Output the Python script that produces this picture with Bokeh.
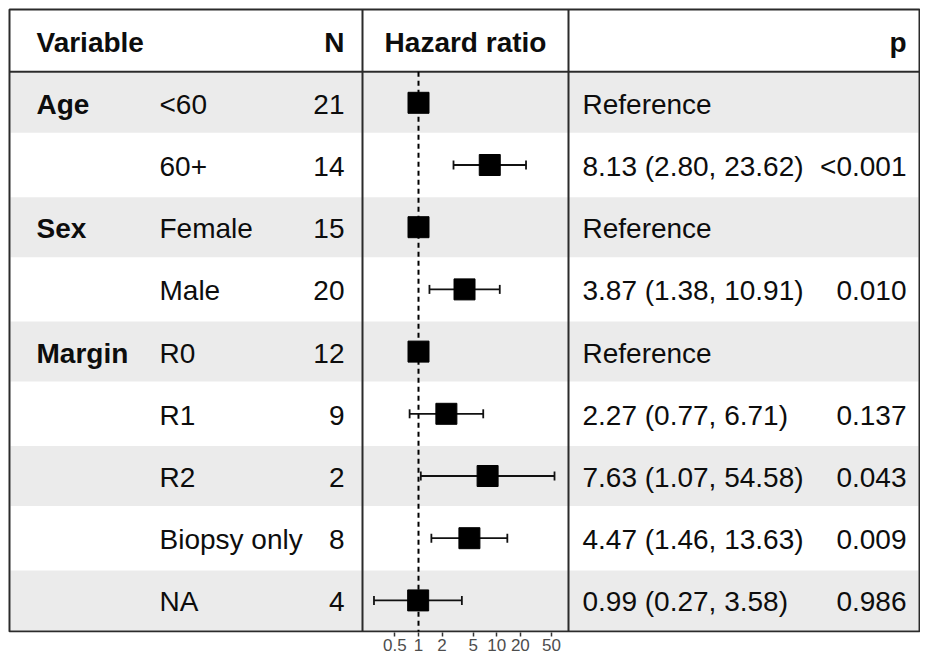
import math
from bokeh.plotting import figure
from bokeh.models import Range1d, LogScale, LogAxis, FixedTicker, CustomJSTickFormatter
from bokeh.core.properties import value
from bokeh.embed import file_html
from bokeh.resources import INLINE

# ---- data ----
variables = ["Age", "", "Sex", "", "Margin", "", "", "", ""]
levels = ["<60", "60+", "Female", "Male", "R0", "R1", "R2", "Biopsy only", "NA"]
n_obs = [21, 14, 15, 20, 12, 9, 2, 8, 4]
hr_est = [1, 8.13, 1, 3.87, 1, 2.27, 7.63, 4.47, 0.99]
hr_low = [None, 2.80, None, 1.38, None, 0.77, 1.07, 1.46, 0.27]
hr_high = [None, 23.62, None, 10.91, None, 6.71, 54.58, 13.63, 3.58]
p_values = ["", "<0.001", "", "0.010", "", "0.137", "0.043", "0.009", "0.986"]
hr_ticks = [0.5, 1, 2, 5, 10, 20, 50]
headers = ["Variable", "N", "Hazard ratio", "p"]

rows = list(range(1, len(levels) + 1))
est_labels = ["Reference" if lo is None else f"{e:.2f} ({lo:.2f}, {hi:.2f})"
              for e, lo, hi in zip(hr_est, hr_low, hr_high)]

# ---- layout (x in pixel-like units) ----
W, H = 920, 656
AX_H = 24
FRAME_H = H - AX_H
TOP_PX, BOT_PX = 9.0, FRAME_H - 1.0
ROW_PX = (BOT_PX - TOP_PX) / 10.0
y_bottom = (FRAME_H - TOP_PX) / ROW_PX - 0.5
y_top = -TOP_PX / ROW_PX - 0.5

X0, X1 = 0, W
ONE_PX, DECADE_PX = 418.0, 78.3
hr_lo_lim = 10 ** ((X0 - ONE_PX) / DECADE_PX)
hr_hi_lim = 10 ** ((X1 - ONE_PX) / DECADE_PX)
left_b, right_b = 9, 919
panel_l, panel_r = 362, 568

FONT = value("Liberation Sans")
FS = "28px"
TXT = "#0d0d0d"
LINE = "#2b2b2b"

p = figure(width=W, height=H, output_backend="svg", toolbar_location=None,
           x_range=Range1d(X0, X1), y_range=Range1d(y_bottom, y_top),
           x_axis_type=None, y_axis_type=None,
           extra_x_ranges={"hr": Range1d(hr_lo_lim, hr_hi_lim)},
           extra_x_scales={"hr": LogScale()},
           min_border_left=0, min_border_right=0, min_border_top=0, min_border_bottom=AX_H)
p.outline_line_color = None
p.xgrid.visible = False
p.ygrid.visible = False
p.background_fill_color = "white"
p.border_fill_color = "white"

# stripes
stripe_rows = [r for r in rows if r % 2 == 1]
p.hbar(y=stripe_rows, height=0.965, left=left_b + 1, right=right_b - 1,
       fill_color="#EBEBEB", line_color=None)

# table lines
p.segment(x0=[left_b], x1=[right_b], y0=[0.5], y1=[0.5], line_color=LINE, line_width=2)
p.segment(x0=[panel_l, panel_r], x1=[panel_l, panel_r], y0=[-0.5, -0.5], y1=[9.5, 9.5],
          line_color=LINE, line_width=2)
p.quad(left=[left_b], right=[right_b], top=[-0.5], bottom=[9.5], fill_color=None,
       line_color=LINE, line_width=2)

# reference line
p.segment(x0=[1], x1=[1], y0=[0.5], y1=[9.5], x_range_name="hr",
          line_color="black", line_width=2, line_dash="5 4")

# CIs
ci_rows = [r for r, lo in zip(rows, hr_low) if lo is not None]
ci_lo = [lo for lo in hr_low if lo is not None]
ci_hi = [hi for hi in hr_high if hi is not None]
p.segment(x0=ci_lo, x1=ci_hi, y0=ci_rows, y1=ci_rows, x_range_name="hr",
          line_color="#111111", line_width=1.8)
p.scatter(x=ci_lo + ci_hi, y=ci_rows + ci_rows, marker="dash", angle=math.pi / 2, size=9,
          line_color="#111111", line_width=1.8, x_range_name="hr")
p.scatter(x=hr_est, y=rows, marker="square", size=21, fill_color="black",
          line_color="black", x_range_name="hr")

# text
BL = 1.5 / ROW_PX
def txt(x, y, t, align, bold=False):
    p.text(x=x, y=[yy + BL for yy in y], text=t, text_font=FONT, text_font_size=FS,
           text_align=align, text_baseline="alphabetic", text_color=TXT,
           text_font_style="bold" if bold else "normal")

txt([36], [0], [headers[0]], "left", True)
txt([344], [0], [headers[1]], "right", True)
txt([465], [0], [headers[2]], "center", True)
txt([906], [0], [headers[3]], "right", True)
txt([36] * len(rows), rows, variables, "left", True)
txt([159] * len(rows), rows, levels, "left")
txt([344] * len(rows), rows, [str(v) for v in n_obs], "right")
txt([582] * len(rows), rows, est_labels, "left")
txt([906] * len(rows), rows, p_values, "right")

# axis
ax = LogAxis(x_range_name="hr", ticker=FixedTicker(ticks=hr_ticks),
             formatter=CustomJSTickFormatter(code="return String(tick);"),
             bounds=(10 ** ((panel_l - ONE_PX) / DECADE_PX), 10 ** ((panel_r - ONE_PX) / DECADE_PX)))
ax.axis_line_color = None
ax.major_tick_line_color = "#333333"
ax.major_tick_line_width = 1.5
ax.major_tick_in = 0
ax.major_tick_out = 4
ax.minor_tick_line_color = None
ax.major_label_standoff = 2
ax.major_label_text_font = "Liberation Sans"
ax.major_label_text_font_size = "17px"
ax.major_label_text_color = "#4D4D4D"
p.add_layout(ax, "below")

open("out.html", "w").write(file_html(p, INLINE))
